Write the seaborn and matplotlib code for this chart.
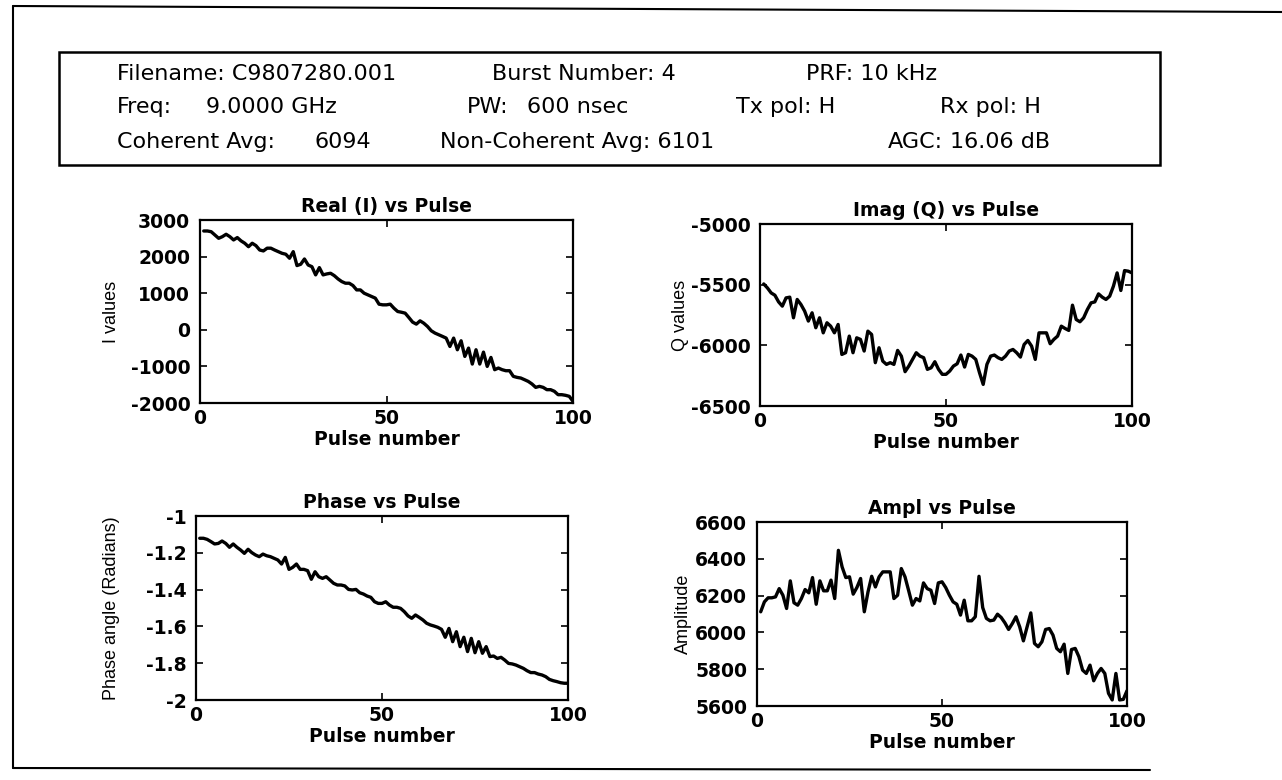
import numpy as np
import pandas as pd
import matplotlib
matplotlib.use("Agg")
import matplotlib.pyplot as plt
from matplotlib.lines import Line2D
from matplotlib.patches import Rectangle
import seaborn as sns

# ---------------- data ----------------
pulse = list(range(1, 101))

i_values = [2700, 2700, 2680, 2590, 2500, 2545, 2610, 2545, 2455, 2520,
            2430, 2365, 2270, 2365, 2300, 2180, 2155, 2230, 2230, 2180,
            2135, 2090, 2065, 1955, 2135, 1755, 1790, 1935, 1770, 1725,
            1500, 1700, 1500, 1527, 1545, 1480, 1390, 1318, 1273, 1273,
            1210, 1090, 1090, 1000, 955, 910, 865, 700, 682, 682,
            700, 590, 500, 480, 455, 335, 210, 155, 245, 180,
            90, -27, -90, -135, -180, -227, -455, -227, -545, -300,
            -727, -500, -936, -545, -936, -610, -1000, -755, -1090, -1045,
            -1090, -1118, -1118, -1272, -1300, -1318, -1363, -1410, -1480, -1573,
            -1545, -1573, -1636, -1636, -1680, -1773, -1773, -1790, -1818, -1955]

q_values = [-5494, -5527, -5568, -5587, -5642, -5677, -5609, -5603, -5773, -5622,
            -5663, -5718, -5800, -5732, -5855, -5773, -5897, -5814, -5842, -5897,
            -5828, -6075, -6061, -5924, -6061, -5938, -5951, -6047, -5883, -5910,
            -6143, -6020, -6130, -6157, -6143, -6157, -6042, -6089, -6217, -6171,
            -6116, -6061, -6089, -6102, -6198, -6185, -6135, -6198, -6239, -6239,
            -6212, -6171, -6152, -6080, -6179, -6075, -6089, -6116, -6225, -6322,
            -6157, -6089, -6080, -6102, -6116, -6089, -6047, -6034, -6061, -6097,
            -5993, -5960, -6006, -6116, -5897, -5897, -5897, -5987, -5951, -5924,
            -5842, -5861, -5877, -5669, -5787, -5806, -5773, -5705, -5650, -5642,
            -5576, -5603, -5622, -5595, -5513, -5403, -5548, -5384, -5389, -5403]

phase_values = [-1.121, -1.121, -1.127, -1.139, -1.152, -1.149, -1.136, -1.149, -1.170, -1.152,
                -1.170, -1.185, -1.203, -1.181, -1.199, -1.212, -1.221, -1.207, -1.216, -1.221,
                -1.230, -1.239, -1.261, -1.225, -1.290, -1.279, -1.261, -1.290, -1.290, -1.297,
                -1.344, -1.303, -1.330, -1.339, -1.330, -1.348, -1.366, -1.375, -1.375, -1.380,
                -1.399, -1.402, -1.399, -1.417, -1.424, -1.435, -1.442, -1.466, -1.475, -1.475,
                -1.466, -1.484, -1.496, -1.496, -1.502, -1.520, -1.543, -1.556, -1.538, -1.551,
                -1.565, -1.583, -1.592, -1.598, -1.605, -1.616, -1.659, -1.611, -1.683, -1.629,
                -1.710, -1.659, -1.737, -1.665, -1.743, -1.683, -1.746, -1.710, -1.764, -1.761,
                -1.774, -1.768, -1.783, -1.801, -1.804, -1.810, -1.819, -1.828, -1.841, -1.851,
                -1.851, -1.859, -1.864, -1.873, -1.888, -1.895, -1.900, -1.906, -1.909, -1.909]

ampl_values = [6112, 6166, 6188, 6188, 6193, 6238, 6202, 6130, 6280, 6161,
               6148, 6184, 6233, 6215, 6298, 6153, 6280, 6226, 6226, 6284,
               6184, 6446, 6356, 6298, 6302, 6208, 6244, 6293, 6112, 6220,
               6305, 6247, 6302, 6329, 6329, 6329, 6184, 6202, 6347, 6302,
               6226, 6148, 6184, 6171, 6269, 6238, 6229, 6157, 6269, 6275,
               6244, 6202, 6166, 6153, 6094, 6175, 6063, 6063, 6085, 6305,
               6135, 6076, 6063, 6067, 6099, 6081, 6052, 6016, 6048, 6085,
               6030, 5954, 6030, 6106, 5940, 5922, 5949, 6016, 6021, 5985,
               5913, 5895, 5936, 5777, 5907, 5913, 5868, 5795, 5777, 5822,
               5737, 5777, 5804, 5777, 5669, 5633, 5777, 5633, 5636, 5683]

titles = ["Real (I) vs Pulse", "Imag (Q) vs Pulse", "Phase vs Pulse", "Ampl vs Pulse"]
ylabels = ["I values", "Q values", "Phase angle (Radians)", "Amplitude"]
xlabel = "Pulse number"
x_ticks = [0, 50, 100]
y_ticks = [
    [-2000, -1000, 0, 1000, 2000, 3000],
    [-6500, -6000, -5500, -5000],
    [-2, -1.8, -1.6, -1.4, -1.2, -1],
    [5600, 5800, 6000, 6200, 6400, 6600],
]
y_ticklabels = [
    ["-2000", "-1000", "0", "1000", "2000", "3000"],
    ["-6500", "-6000", "-5500", "-5000"],
    ["-2", "-1.8", "-1.6", "-1.4", "-1.2", "-1"],
    ["5600", "5800", "6000", "6200", "6400", "6600"],
]

header_rows = [
    [("Filename: C9807280.001", 117), ("Burst Number: 4", 492), ("PRF: 10 kHz", 806)],
    [("Freq:", 117), ("9.0000 GHz", 206), ("PW:", 467), ("600 nsec", 527),
     ("Tx pol: H", 736), ("Rx pol: H", 940)],
    [("Coherent Avg:", 117), ("6094", 315), ("Non-Coherent Avg: 6101", 440),
     ("AGC:", 888), ("16.06 dB", 950)],
]
header_y = [74, 107, 142]

# ---------------- figure ----------------
sns.set_theme(style="white")
plt.rcParams["font.family"] = ["DejaVu Sans"]
W, H = 1282, 780
fig = plt.figure(figsize=(W / 100, H / 100), dpi=100)
fig.patch.set_facecolor("white")


def fx(px):
    return px / W


def fy(py):
    return 1 - py / H


# axes rectangles in pixel coordinates (left, top, right, bottom)
boxes = [(200, 220, 573, 403), (760, 224, 1132, 406),
         (196, 516, 568, 700), (757, 522, 1127, 706)]
series = [i_values, q_values, phase_values, ampl_values]
ylims = [(-2000, 3000), (-6500, -5000), (-2, -1), (5600, 6600)]
ylabel_x = [112, 680, 112, 683]

tick_font = dict(family="DejaVu Sans", weight="bold", size=13.5)

for k in range(4):
    l, t, r, b = boxes[k]
    ax = fig.add_axes([fx(l), fy(b), (r - l) / W, (b - t) / H])
    df = pd.DataFrame({"pulse": pulse, "value": series[k]})
    sns.lineplot(data=df, x="pulse", y="value", ax=ax, color="black",
                 linewidth=2.4, errorbar=None)
    ax.set_xlim(0, 100)
    ax.set_ylim(*ylims[k])
    ax.set_xticks(x_ticks)
    ax.set_xticklabels([str(v) for v in x_ticks], fontdict=tick_font)
    ax.set_yticks(y_ticks[k])
    ax.set_yticklabels(y_ticklabels[k], fontdict=tick_font)
    ax.tick_params(direction="in", length=5, width=1.2, color="black",
                   top=True, right=True, bottom=True, left=True,
                   labelcolor="black")
    ax.tick_params(axis="y", pad=7)
    ax.tick_params(axis="x", pad=4)
    for s in ax.spines.values():
        s.set_visible(True)
        s.set_color("black")
        s.set_linewidth(1.6)
    ax.set_title(titles[k], fontdict=tick_font, pad=6, color="black")
    ax.set_xlabel(xlabel, fontdict=tick_font, color="black")
    ax.xaxis.set_label_coords(0.5, -27 / (b - t))
    ax.set_ylabel(ylabels[k], family="Liberation Sans", size=13, color="black")
    ax.yaxis.label.set_rotation_mode("anchor")
    ax.yaxis.label.set_verticalalignment("center")
    ax.yaxis.set_label_coords((ylabel_x[k] - l) / (r - l), 0.5)
    ax.grid(False)

# header box
fig.add_artist(Rectangle((fx(59), fy(165)), (1160 - 59) / W, (165 - 52) / H,
                         transform=fig.transFigure, fill=False,
                         edgecolor="black", linewidth=1.8))
for row, yy in zip(header_rows, header_y):
    for txt, xx in row:
        fig.text(fx(xx), fy(yy), txt, ha="left", va="center",
                 family="DejaVu Sans", size=16, color="black")

# outer page frame
fig.add_artist(Line2D([fx(13), fx(13)], [fy(768), fy(6)],
                      transform=fig.transFigure, color="black", linewidth=1.5))
fig.add_artist(Line2D([fx(13), fx(1282)], [fy(6), fy(12)],
                      transform=fig.transFigure, color="black", linewidth=1.5))
fig.add_artist(Line2D([fx(13), fx(1150)], [fy(768), fy(770)],
                      transform=fig.transFigure, color="black", linewidth=1.5))

fig.savefig("out.png", dpi=100, facecolor="white")
